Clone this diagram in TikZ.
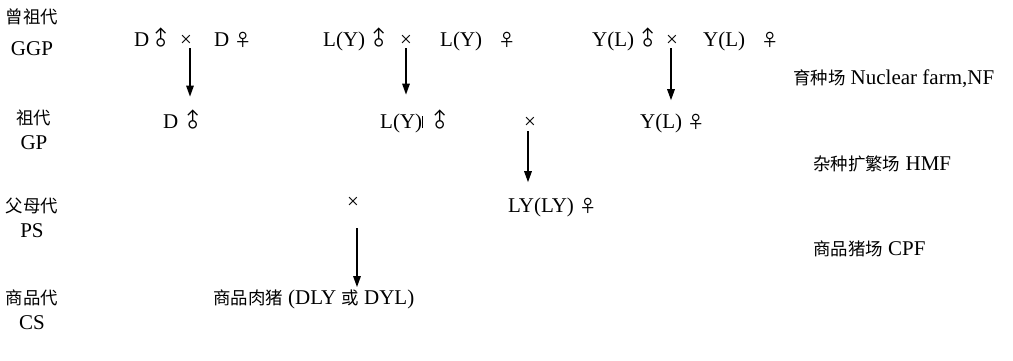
\documentclass[tikz,border=0pt]{standalone}
\usepackage{fontspec}
\setmainfont{Liberation Serif}
\newfontfamily\cjk[Scale=0.83]{Noto Sans CJK SC}
\usetikzlibrary{arrows.meta}
% upright male sign: arrow pointing straight up out of the circle
\newcommand{\male}{\hspace{-3pt}\raisebox{0.5pt}{\rotatebox[origin=c]{45}{\cjk\fontsize{24}{24}\selectfont ♂}}\hspace{-3pt}}
\newcommand{\female}{{\cjk ♀}}
\begin{document}
\begin{tikzpicture}[x=1pt,y=-1pt,
  txt/.style={inner sep=0pt, anchor=base west, font=\fontsize{21}{24}\selectfont},
  gen/.style={inner sep=0pt, anchor=base, font=\fontsize{21}{24}\selectfont},
  cross/.style={inner sep=0pt, anchor=base, font=\fontsize{21}{24}\selectfont},
  arr/.style={line width=1.5pt, -{Triangle[length=11pt,width=7.5pt]}}]
\useasboundingbox (0,0) rectangle (1013,360);
\fill[white] (0,0) rectangle (1013,360);

% generation labels
\node[gen] (g1a) at (32,23)  {\cjk 曾祖代};
\node[gen] (g1b) at (32,55)  {GGP};
\node[gen] (g2a) at (34,124) {\cjk 祖代};
\node[gen] (g2b) at (34,149) {GP};
\node[gen] (g3a) at (32,212) {\cjk 父母代};
\node[gen] (g3b) at (32,237) {PS};
\node[gen] (g4a) at (32,304) {\cjk 商品代};
\node[gen] (g4b) at (32,329) {CS};

% great-grandparent lines
\node[txt] (dm)  at (134,46) {D\hspace{3pt}\male};
\node[cross] (x1) at (186,46) {×};
\node[txt] (df)  at (214,46) {D \female};
\node[txt] (lm)  at (323,46) {L(Y) \male};
\node[cross] (x2) at (406,46) {×};
\node[txt] (lf)  at (440,46) {L(Y)\hspace{16pt}\female};
\node[txt] (ym)  at (592,46) {Y(L) \male};
\node[cross] (x3) at (672,46) {×};
\node[txt] (yf)  at (703,46) {Y(L)\hspace{16pt}\female};

% grandparent lines
\node[txt] (d2)  at (163,128) {D \male};
\node[txt] (l2)  at (380,128) {L(Y)\rule{0.8pt}{12pt}\hspace{8pt}\male};
\node[cross] (x4) at (530,128) {×};
\node[txt] (y2)  at (640,128) {Y(L) \female};

% parent lines
\node[cross] (x5) at (353,208) {×};
\node[txt] (ly)  at (508,212) {LY(LY) \female};

% commercial pigs
\node[txt] (cs)  at (213,304) {{\cjk 商品肉猪} (DLY {\cjk 或} DYL)};

% farm levels
\node[txt] (nf)  at (793,84)  {{\cjk 育种场} Nuclear farm,NF};
\node[txt] (hmf) at (813,170) {{\cjk 杂种扩繁场} HMF};
\node[txt] (cpf) at (813,255) {{\cjk 商品猪场} CPF};

% matings and offspring
\draw[arr] ([xshift=4pt,yshift=-2pt]x1.south) -- ([xshift=4pt,yshift=11pt]x1.south |- d2.north);
\draw[arr] ([yshift=-2pt]x2.south) -- ([yshift=13pt]x2.south |- l2.north);
\draw[arr] ([xshift=-1pt,yshift=-2pt]x3.south) -- ([xshift=-1pt,yshift=13pt]x3.south |- y2.north);
\draw[arr] ([xshift=-2pt,yshift=-3pt]x4.south) -- ([xshift=-2pt,yshift=15pt]x4.south |- ly.north);
\draw[arr] ([xshift=4pt,yshift=-20pt]x5.south) -- ([xshift=4pt,yshift=2pt]x5.south |- cs.north);
\end{tikzpicture}
\end{document}
